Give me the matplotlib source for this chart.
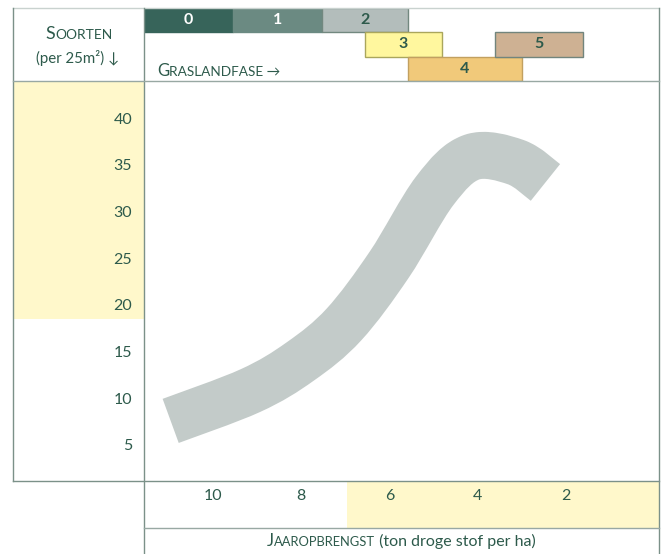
import matplotlib
matplotlib.use("Agg")
import matplotlib.pyplot as plt
from matplotlib.lines import Line2D
from matplotlib.path import Path
from matplotlib.patches import PathPatch

# ---------------- data ----------------
yield_ton = [10.96, 9.15, 8.02, 7.03, 6.00, 4.97, 4.13, 3.13, 2.46]
species   = [7.58, 10.83, 13.95, 17.91, 24.34, 32.24, 35.84, 35.30, 33.13]

x_ticks = [10, 8, 6, 4, 2]
y_ticks = [5, 10, 15, 20, 25, 30, 35, 40]

phase_labels = ["0", "1", "2", "3", "4", "5"]
phase_start  = [11.56, 9.55, 7.53, 6.55, 5.58, 3.60]
phase_end    = [9.55, 7.53, 5.58, 4.81, 2.99, 1.61]
phase_row    = [0, 0, 0, 1, 2, 1]

yield_zone_start = 6.95     # highlighted yield range (x, towards low yields)
species_zone_start = 18.5   # highlighted species range (y, upwards)

# ---------------- style ----------------
XLIM = (11.565, -0.116)
YLIM = (1.14, 44.0)
TXT = "#2d5a4b"
YEL = "#fff8cb"
BAND = "#c3cbc9"
FRAME = "#7b9189"
phase_face = ["#37645a", "#6b8a82", "#b3bdbb", "#fff79e", "#f1c97a", "#ceb193"]
phase_edge = ["#37645a", "#6b8a82", "#72887f", "#aaa65c", "#c2a060", "#72857d"]
phase_txt  = ["white", "white", TXT, TXT, TXT, TXT]
FONT = ["Lato", "DejaVu Sans"]
plt.rcParams["font.family"] = FONT

W, H = 664, 554
fig = plt.figure(figsize=(W / 100, H / 100), dpi=100)
fig.patch.set_facecolor("white")


def fx(px):
    return px / W


def fy(py):
    return 1 - py / H


def box(x0, y0, x1, y1):
    return [fx(x0), fy(y1), fx(x1) - fx(x0), fy(y0) - fy(y1)]


def clean(a):
    for s in a.spines.values():
        s.set_visible(False)
    a.set_xticks([])
    a.set_yticks([])


# left column (species highlight)
ax_l = fig.add_axes(box(13, 81, 144, 481), zorder=1)
ax_l.set_xlim(0, 1)
ax_l.set_ylim(YLIM)
ax_l.axhspan(species_zone_start, YLIM[1], color=YEL, lw=0)
clean(ax_l)

# bottom tick row (yield highlight)
ax_b = fig.add_axes(box(144, 481, 659, 528), zorder=1)
ax_b.set_xlim(XLIM)
ax_b.set_ylim(0, 1)
ax_b.axvspan(yield_zone_start, XLIM[1], color=YEL, lw=0)
clean(ax_b)

# header with grassland phases
ax_h = fig.add_axes(box(144, 8, 659, 81), zorder=1)
ax_h.set_xlim(XLIM)
ax_h.set_ylim(3, 0)
for lab, s, e, r, fc, ec, tc in zip(phase_labels, phase_start, phase_end, phase_row,
                                     phase_face, phase_edge, phase_txt):
    ax_h.barh(r + 0.5, e - s, left=s, height=1, color=fc, edgecolor=ec, lw=1)
    ax_h.text((s + e) / 2, r + 0.5, lab, ha="center", va="center",
              fontsize=11.5, fontweight="bold", color=tc)
clean(ax_h)

# main plot
ax = fig.add_axes(box(144, 81, 659, 481), zorder=3)
ax.set_facecolor("none")
ax.set_xlim(XLIM)
ax.set_ylim(YLIM)

# smooth band through the read points (Catmull-Rom as cubic Bezier path)
pts = list(zip(yield_ton, species))
n = len(pts)
verts = [pts[0]]
codes = [Path.MOVETO]
for i in range(n - 1):
    p0 = pts[max(i - 1, 0)]
    p1 = pts[i]
    p2 = pts[i + 1]
    p3 = pts[min(i + 2, n - 1)]
    c1 = (p1[0] + (p2[0] - p0[0]) / 6, p1[1] + (p2[1] - p0[1]) / 6)
    c2 = (p2[0] - (p3[0] - p1[0]) / 6, p2[1] - (p3[1] - p1[1]) / 6)
    verts += [c1, c2, p2]
    codes += [Path.CURVE4] * 3
ax.add_patch(PathPatch(Path(verts, codes), facecolor="none", edgecolor=BAND,
                       lw=33.8, capstyle="butt", joinstyle="round"))

ax.set_xticks(x_ticks)
ax.set_yticks(y_ticks)
ax.tick_params(axis="y", length=0, pad=8.5, labelsize=11.5, labelcolor=TXT)
ax.tick_params(axis="x", length=0, pad=6, labelsize=11.5, labelcolor=TXT)
for s in ax.spines.values():
    s.set_visible(False)

# frame lines
def fline(x0, y0, x1, y1, c=FRAME, lw=1.0):
    fig.add_artist(Line2D([fx(x0), fx(x1)], [fy(y0), fy(y1)],
                          transform=fig.transFigure, color=c, lw=lw, zorder=10))

fline(13, 8, 659, 8, c="#c9d2cf")
fline(13, 8, 13, 481)
fline(144, 8, 144, 554)
fline(659, 8, 659, 554)
fline(13, 81, 659, 81, c="#98a8a3")
fline(13, 481, 659, 481)
fline(144, 528, 659, 528, c="#98a8a3")

# small-caps style texts
fig.canvas.draw()
renderer = fig.canvas.get_renderer()


def smallcaps(px, py, parts, ha="left"):
    texts = []
    x = fx(px)
    for s, size in parts:
        t = fig.text(x, fy(py), s, fontsize=size, color=TXT, va="baseline",
                     ha="left", family=FONT, zorder=11)
        bb = t.get_window_extent(renderer)
        x = x + bb.width / W
        texts.append(t)
    if ha == "center":
        shift = (x - fx(px)) / 2
        for t in texts:
            t.set_x(t.get_position()[0] - shift)
    return texts


smallcaps(79, 39.3, [("S", 13), ("OORTEN", 9.9)], ha="center")
smallcaps(78, 63, [("(per 25m²) ↓", 10.8)], ha="center")
smallcaps(157, 76, [("G", 12), ("RASLANDFASE →", 9.8)])
smallcaps(401, 545.7, [("J", 12), ("AAROPBRENGST", 9.3), (" (ton droge stof per ha)", 11.5)],
          ha="center")

fig.savefig("out.png", dpi=100)
